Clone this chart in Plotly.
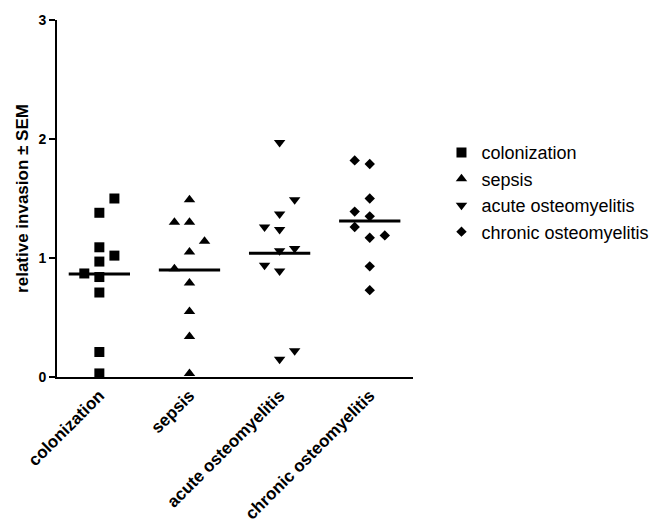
import plotly.graph_objects as go

categories = ["colonization", "sepsis", "acute osteomyelitis", "chronic osteomyelitis"]
symbols = ["square", "triangle-up", "triangle-down", "diamond"]
marker_sizes = [10, 10, 10, 8]

colonization = [1.50, 1.38, 1.09, 1.02, 0.97, 0.87, 0.84, 0.71, 0.21, 0.03]
colonization_slot = [1, 0, 0, 1, 0, -1, 0, 0, 0, 0]
sepsis = [1.49, 1.30, 1.30, 1.14, 1.05, 0.91, 0.79, 0.55, 0.34, 0.03]
sepsis_slot = [0, -1, 0, 1, 0, -1, 0, 0, 0, 0]
acute = [1.97, 1.49, 1.37, 1.26, 1.24, 1.06, 1.08, 0.94, 0.89, 0.22, 0.15]
acute_slot = [0, 1, 0, -1, 0, 0, 1, -1, 0, 1, 0]
chronic = [1.82, 1.79, 1.50, 1.39, 1.35, 1.26, 1.17, 1.19, 0.93, 0.73]
chronic_slot = [-1, 0, 0, -1, 0, -1, 0, 1, 0, 0]
means = [0.865, 0.90, 1.04, 1.31]

series = [colonization, sepsis, acute, chronic]
slots = [colonization_slot, sepsis_slot, acute_slot, chronic_slot]

SLOT_W = 0.167
HALF = 0.34
FONT = "Liberation Sans, Arial, sans-serif"

fig = go.Figure()
for i, (name, vals, sl, sym, ms) in enumerate(zip(categories, series, slots, symbols, marker_sizes)):
    fig.add_trace(go.Scatter(
        x=[i + s * SLOT_W for s in sl], y=vals, mode="markers", name=name,
        marker=dict(symbol=sym, size=ms, color="black", line=dict(width=0)),
        cliponaxis=False,
    ))
for i, m in enumerate(means):
    fig.add_trace(go.Scatter(
        x=[i - HALF, i + HALF], y=[m, m], mode="lines",
        line=dict(color="black", width=3), showlegend=False, cliponaxis=False,
    ))

fig.update_layout(
    width=668, height=525,
    margin=dict(l=49, r=263, t=12, b=156),
    paper_bgcolor="white", plot_bgcolor="white",
    font=dict(family=FONT, color="black"),
    showlegend=True,
    legend=dict(x=1.08, y=0.68, xanchor="left", yanchor="top",
                font=dict(size=18, family=FONT, color="black"),
                itemsizing="trace", tracegroupgap=0),
    xaxis=dict(range=[-0.47, 3.48], tickmode="array", tickvals=[0, 1, 2, 3],
               ticktext=categories, tickangle=-45, showgrid=False, zeroline=False,
               showline=True, linecolor="black", linewidth=2, ticks="",
               automargin=False,
               tickfont=dict(size=17, family=FONT, weight="bold", color="black")),
    yaxis=dict(range=[0, 3], tickmode="array", tickvals=[0, 1, 2, 3],
               showgrid=False, zeroline=False, showline=True, linecolor="black",
               linewidth=2, ticks="outside", ticklen=6, tickwidth=2, tickcolor="black",
               automargin=False,
               tickfont=dict(size=14, family=FONT, weight="bold", color="black"),
               title=dict(text="relative invasion ± SEM", standoff=5,
                          font=dict(size=17, family=FONT, weight="bold", color="black"))),
)
fig.write_html("out.html")
